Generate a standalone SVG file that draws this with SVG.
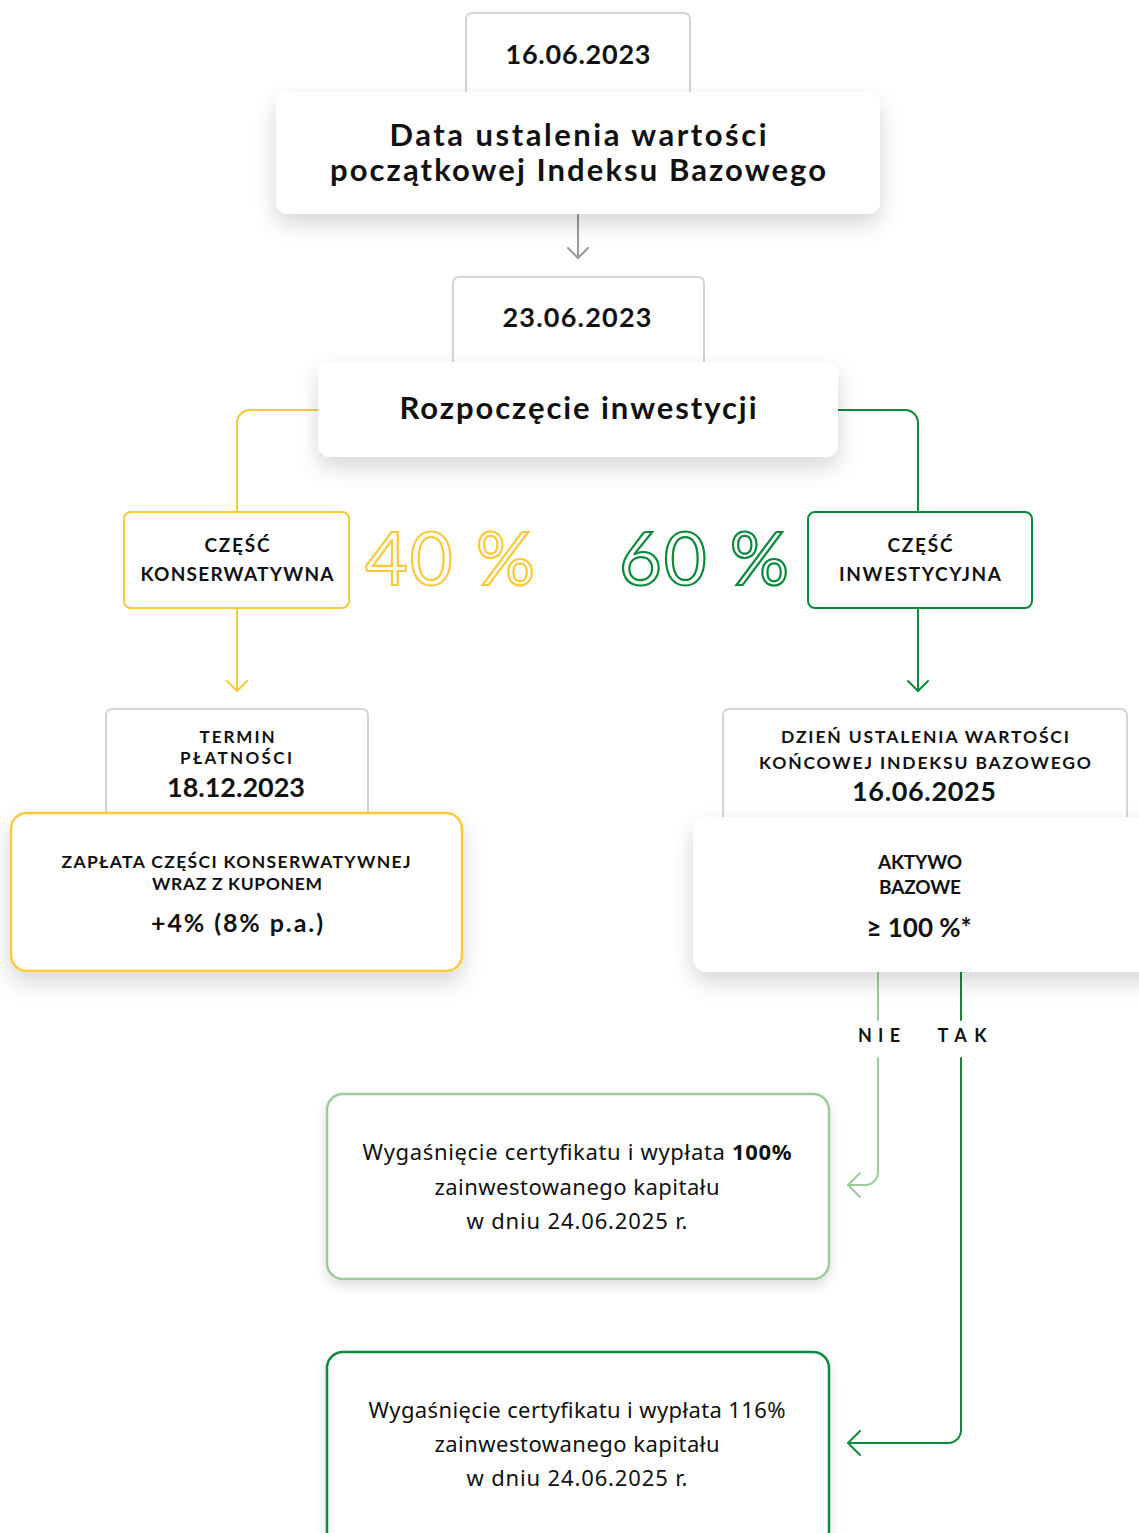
<svg xmlns="http://www.w3.org/2000/svg" width="1139" height="1533" viewBox="0 0 1139 1533">
<style>
  .gbox{fill:#fff;stroke:#d4d4d4;stroke-width:2}
  .card{fill:#fff}
  .h{font-family:Lato,"Liberation Sans",sans-serif;font-weight:700;fill:#111;text-anchor:middle}
  .date{font-size:27px}
  .big{font-size:31px}
  .lab{font-size:19px}
  .lab2{font-size:17.5px}
  .lab3{font-size:17px}
  .body{font-family:"Noto Sans","Liberation Sans",sans-serif;font-size:22px;fill:#111;text-anchor:middle}
  .pct{font-family:Lato,"Liberation Sans",sans-serif;font-size:74px;font-weight:400;fill:none;stroke-width:2.2;letter-spacing:2px}
  .con{fill:none;stroke-width:2;stroke-linecap:round;stroke-linejoin:round}
</style>
<defs>
  <filter id="sh" x="-20%" y="-30%" width="140%" height="180%">
    <feDropShadow dx="0" dy="10" stdDeviation="11" flood-color="#000" flood-opacity="0.16"/>
  </filter>
  <filter id="sh2" x="-10%" y="-20%" width="120%" height="150%">
    <feDropShadow dx="0" dy="6" stdDeviation="6" flood-color="#000" flood-opacity="0.12"/>
  </filter>
  <marker id="mGray" markerUnits="userSpaceOnUse" markerWidth="30" markerHeight="30" refX="0" refY="0" orient="auto" overflow="visible"><path d="M-10,-10 L0,0 L-10,10" fill="none" stroke="#9a9a9a" stroke-width="2" stroke-linecap="round" stroke-linejoin="round"/></marker>
  <marker id="mYel" markerUnits="userSpaceOnUse" markerWidth="30" markerHeight="30" refX="0" refY="0" orient="auto" overflow="visible"><path d="M-10,-10 L0,0 L-10,10" fill="none" stroke="#fcc93a" stroke-width="2" stroke-linecap="round" stroke-linejoin="round"/></marker>
  <marker id="mGrn" markerUnits="userSpaceOnUse" markerWidth="30" markerHeight="30" refX="0" refY="0" orient="auto" overflow="visible"><path d="M-10,-10 L0,0 L-10,10" fill="none" stroke="#0b8a3c" stroke-width="2" stroke-linecap="round" stroke-linejoin="round"/></marker>
  <marker id="mLgr" markerUnits="userSpaceOnUse" markerWidth="30" markerHeight="30" refX="0" refY="0" orient="auto" overflow="visible"><path d="M-12,-12 L0,0 L-12,12" fill="none" stroke="#9ccb9c" stroke-width="2" stroke-linecap="round" stroke-linejoin="round"/></marker>
  <marker id="mGrn2" markerUnits="userSpaceOnUse" markerWidth="30" markerHeight="30" refX="0" refY="0" orient="auto" overflow="visible"><path d="M-12,-12 L0,0 L-12,12" fill="none" stroke="#0b8a3c" stroke-width="2" stroke-linecap="round" stroke-linejoin="round"/></marker>
</defs>
<rect width="1139" height="1533" fill="#fff"/>

<g id="connectors">
  <path class="con" d="M578,215 V258" stroke="#9a9a9a" marker-end="url(#mGray)"/>
  <path class="con" d="M318,410 H250 A13,13 0 0 0 237,423 V512" stroke="#fcc93a"/>
  <path class="con" d="M838,410 H905 A13,13 0 0 1 918,423 V512" stroke="#0b8a3c"/>
  <path class="con" d="M237,608 V691" stroke="#fcc93a" marker-end="url(#mYel)"/>
  <path class="con" d="M918,608 V691" stroke="#0b8a3c" marker-end="url(#mGrn)"/>
  <path class="con" d="M878,972 V1020" stroke="#9ccb9c"/>
  <path class="con" d="M878,1058 V1172 A13,13 0 0 1 865,1185 H848" stroke="#9ccb9c" marker-end="url(#mLgr)"/>
  <path class="con" d="M961,972 V1020" stroke="#0b8a3c"/>
  <path class="con" d="M961,1058 V1430 A13,13 0 0 1 948,1443 H848" stroke="#0b8a3c" marker-end="url(#mGrn2)"/>
</g>

<g id="date1">
  <rect class="gbox" x="466" y="13" width="224" height="100" rx="6"/>
  <text class="h date" x="578" y="64" textLength="145">16.06.2023</text>
</g>
<g id="start-value">
  <rect class="card" x="276" y="92" width="604" height="122" rx="12" filter="url(#sh)"/>
  <text class="h big" x="578" y="146" textLength="377">Data ustalenia wartości</text>
  <text class="h big" x="578" y="181" textLength="496">początkowej Indeksu Bazowego</text>
</g>

<g id="date2">
  <rect class="gbox" x="453" y="277" width="251" height="100" rx="6"/>
  <text class="h date" x="577" y="327" textLength="149">23.06.2023</text>
</g>
<g id="start">
  <rect class="card" x="318" y="362" width="520" height="95" rx="12" filter="url(#sh)"/>
  <text class="h big" x="578" y="419" textLength="357">Rozpoczęcie inwestycji</text>
</g>

<g id="conservative">
  <rect x="124" y="512" width="225" height="96" rx="7" fill="#fff" stroke="#fcc93a" stroke-width="2"/>
  <text class="h lab" x="237" y="552" textLength="65">CZĘŚĆ</text>
  <text class="h lab" x="237" y="581" textLength="193">KONSERWATYWNA</text>
</g>
<g id="pct40">
  <text class="pct" x="451" y="585" text-anchor="middle" stroke="#fcc93a">40 %</text>
</g>
<g id="pct60">
  <text class="pct" x="705" y="585" text-anchor="middle" stroke="#0b8a3c">60 %</text>
</g>
<g id="investment">
  <rect x="808" y="512" width="224" height="96" rx="7" fill="#fff" stroke="#0b8a3c" stroke-width="2"/>
  <text class="h lab" x="920" y="552" textLength="65">CZĘŚĆ</text>
  <text class="h lab" x="920" y="581" textLength="162">INWESTYCYJNA</text>
</g>

<g id="payment-date">
  <rect class="gbox" x="106" y="709" width="262" height="125" rx="6"/>
  <text class="h lab3" x="237" y="743" textLength="75">TERMIN</text>
  <text class="h lab3" x="236" y="764" textLength="112">PŁATNOŚCI</text>
  <text class="h date" x="236" y="797" textLength="138">18.12.2023</text>
</g>
<g id="payment">
  <rect x="11" y="813" width="451" height="158" rx="16" fill="#fff" stroke="#fcc93a" stroke-width="2.5" filter="url(#sh)"/>
  <text class="h lab2" x="236" y="868" textLength="349">ZAPŁATA CZĘŚCI KONSERWATYWNEJ</text>
  <text class="h lab2" x="237" y="890" textLength="170">WRAZ Z KUPONEM</text>
  <text class="h" x="237" y="932" style="font-size:25px" textLength="172">+4% (8% p.a.)</text>
</g>

<g id="final-date">
  <rect class="gbox" x="723" y="709" width="404" height="125" rx="6"/>
  <text class="h lab2" x="925" y="743" textLength="288">DZIEŃ USTALENIA WARTOŚCI</text>
  <text class="h lab2" x="925" y="769" textLength="332">KOŃCOWEJ INDEKSU BAZOWEGO</text>
  <text class="h date" x="924" y="801" textLength="144">16.06.2025</text>
</g>
<g id="asset">
  <rect class="card" x="693" y="817" width="470" height="155" rx="14" filter="url(#sh)"/>
  <text class="h lab" x="920" y="869" textLength="84">AKTYWO</text>
  <text class="h lab" x="920" y="894" textLength="82">BAZOWE</text>
  <text class="h" x="919" y="937" style="font-size:26px" textLength="105">≥ 100 %*</text>
</g>

<g id="labels">
  <text class="h" x="879" y="1042" style="font-size:18px" textLength="42">NIE</text>
  <text class="h" x="962" y="1042" style="font-size:18px" textLength="49">TAK</text>
</g>

<g id="result-nie">
  <rect x="327" y="1094" width="502" height="185" rx="16" fill="#fff" stroke="#9ccb9c" stroke-width="2.5" filter="url(#sh2)"/>
  <text class="body" x="577" y="1160" textLength="429">Wygaśnięcie certyfikatu i wypłata <tspan font-weight="700">100%</tspan></text>
  <text class="body" x="577" y="1195" textLength="285">zainwestowanego kapitału</text>
  <text class="body" x="577" y="1229" textLength="221">w dniu 24.06.2025 r.</text>
</g>
<g id="result-tak">
  <rect x="327" y="1352" width="502" height="200" rx="16" fill="#fff" stroke="#0b8a3c" stroke-width="2.5" filter="url(#sh2)"/>
  <text class="body" x="577" y="1418" textLength="417">Wygaśnięcie certyfikatu i wypłata 116%</text>
  <text class="body" x="577" y="1452" textLength="285">zainwestowanego kapitału</text>
  <text class="body" x="577" y="1486" textLength="221">w dniu 24.06.2025 r.</text>
</g>
</svg>
